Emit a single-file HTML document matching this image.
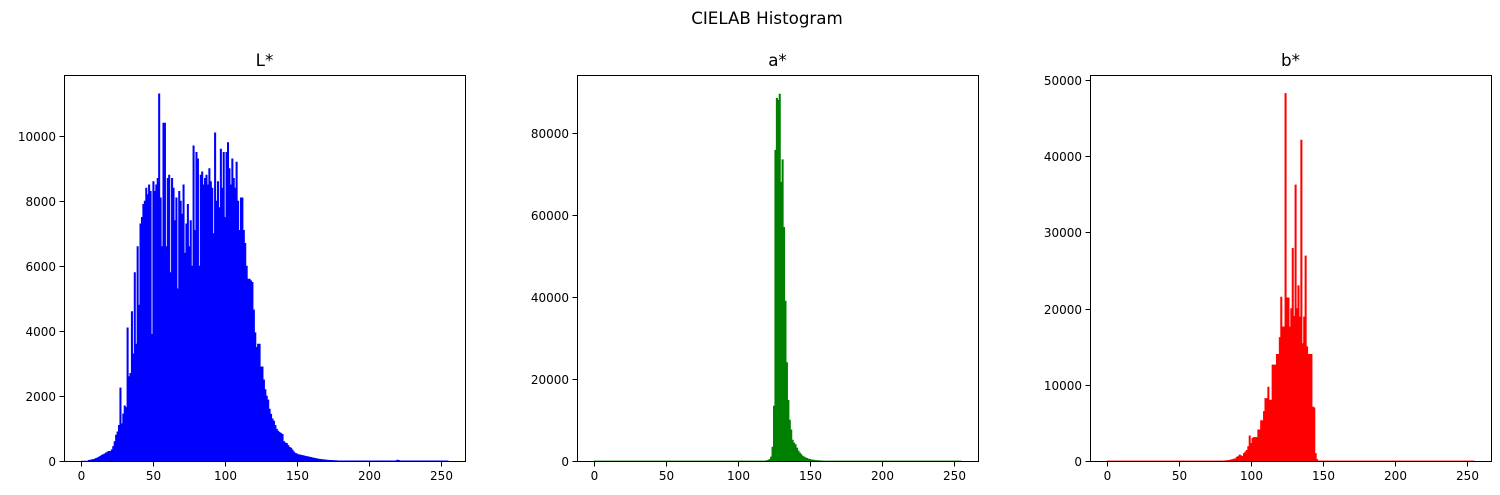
<!DOCTYPE html>
<html><head><meta charset="utf-8"><style>
html,body{margin:0;padding:0;background:#fff;}
svg{display:block;font-family:"DejaVu Sans","Liberation Sans",sans-serif;}
</style></head><body>
<svg id="fig" width="1500" height="495" viewBox="0 0 1500 495" xmlns="http://www.w3.org/2000/svg">
<rect width="1500" height="495" fill="#fff"/>
<text x="767" y="24" text-anchor="middle" font-size="16.7" fill="#000">CIELAB Histogram</text>
</svg>
<script>
const lValues = [
0,0,0,0,0,20,30,40,50,60,
80,100,120,150,180,200,220,250,280,300,
300,350,450,600,800,900,1100,2250,1150,1450,
1700,1650,4100,2600,2700,4600,3300,5800,3600,6600,
4800,7300,7500,7900,8000,8400,8200,8500,8300,3900,
8600,8300,8500,8700,11300,8100,6600,10400,10400,6600,
8700,8800,5800,8700,8400,7400,8100,5300,8300,8000,
7600,8500,6400,7300,7900,6600,7400,6000,9700,7100,
9500,9300,6000,8800,8900,8500,8700,8800,8500,9000,
8600,8400,7000,10100,8000,8600,7800,9600,8400,9500,
7500,9500,9800,9000,8500,9300,8700,8400,9200,8000,
7100,8100,8100,7100,6700,6000,5600,5600,5550,5500,
4650,3950,3500,3600,3600,2900,2900,2500,2200,2000,
1880,1600,1440,1300,1230,1100,980,920,880,850,
820,600,560,540,480,420,400,340,280,240,
220,200,190,180,170,160,150,140,130,120,
110,100,90,80,70,60,55,50,45,40,
35,30,25,22,20,18,15,12,10,8,
5,5,5,5,5,5,5,5,5,5,
5,5,5,5,5,5,5,5,5,5,
5,5,5,5,5,5,5,5,5,5,
5,5,5,5,5,5,5,5,5,5,
30,20,5,5,5,5,5,5,5,5,
5,5,5,5,5,5,5,5,5,5,
5,5,5,5,5,5,5,5,5,5,
5,5,5,5,5,5];
const aValues = [
30,30,30,30,30,30,30,30,30,30,
30,30,30,30,30,30,30,30,30,30,
30,30,30,30,30,30,30,30,30,30,
30,30,30,30,30,30,30,30,30,30,
30,30,30,30,30,30,30,30,30,30,
30,30,30,30,30,30,30,30,30,30,
30,30,30,30,30,30,30,30,30,30,
30,30,30,30,30,30,30,30,30,30,
30,30,30,30,30,30,30,30,30,30,
30,30,30,30,30,30,30,30,30,30,
30,30,30,30,30,30,30,30,30,30,
30,30,30,30,30,30,30,30,30,30,
100,200,400,1000,3400,13400,75800,88500,88000,89500,
68000,73500,57000,39000,24000,14800,10000,7600,5100,4400,
4000,3200,2500,2000,1600,1200,1000,800,650,500,
400,300,250,200,150,120,100,80,60,50,
30,30,30,30,30,30,30,30,30,30,
30,30,30,30,30,30,30,30,30,30,
30,30,30,30,30,30,30,30,30,30,
30,30,30,30,30,30,30,30,30,30,
30,30,30,30,30,30,30,30,30,30,
30,30,30,30,30,30,30,30,30,30,
30,30,30,30,30,30,30,30,30,30,
30,30,30,30,30,30,30,30,30,30,
30,30,30,30,30,30,30,30,30,30,
30,30,30,30,30,30];
const bValues = [
10,10,10,10,10,10,10,10,10,10,
10,10,10,10,10,10,10,10,10,10,
10,10,10,10,10,10,10,10,10,10,
10,10,10,10,10,10,10,10,10,10,
10,10,10,10,10,10,10,10,10,10,
10,10,10,10,10,10,10,10,10,10,
10,10,10,10,10,10,10,10,10,10,
10,10,10,10,10,10,10,10,10,10,
10,30,40,60,80,100,150,200,250,300,
500,600,800,700,600,1000,1200,1400,1900,3300,
2300,3000,3100,3100,3100,4100,4100,5300,5300,6500,
8200,8200,9700,8000,8000,12600,12600,12600,14000,14000,
16200,21500,17600,17600,48200,21400,21400,17600,20000,27900,
19000,36200,20000,23000,18900,42100,15400,18900,26900,15000,
14000,14000,14000,7100,7000,1000,200,10,10,10,
10,10,10,10,10,10,10,10,10,10,
10,10,10,10,10,10,10,10,10,10,
10,10,10,10,10,10,10,10,10,10,
10,10,10,10,10,10,10,10,10,10,
10,10,10,10,10,10,10,10,10,10,
10,10,10,10,10,10,10,10,10,10,
10,10,10,10,10,10,10,10,10,10,
10,10,10,10,10,10,10,10,10,10,
10,10,10,10,10,10,10,10,10,10,
10,10,10,10,10,10,10,10,10,10,
10,10,10,10,10,10];
const xTicks = [0,50,100,150,200,250];
const lTicks = [0,2000,4000,6000,8000,10000];
const aTicks = [0,20000,40000,60000,80000];
const bTicks = [0,10000,20000,30000,40000,50000];
const titles = ["L*","a*","b*"];

const NS = "http://www.w3.org/2000/svg";
const svg = document.getElementById("fig");
function mk(tag, attrs, parent){
  const e = document.createElementNS(NS, tag);
  for (const k in attrs) e.setAttribute(k, attrs[k]);
  parent.appendChild(e);
  return e;
}
const panels = [
  {left:64, vals:lValues, ticks:lTicks, ymax:11877, color:"#0000ff", key:"l"},
  {left:577, vals:aValues, ticks:aTicks, ymax:94146, color:"#008000", key:"a"},
  {left:1090, vals:bValues, ticks:bTicks, ymax:50623, color:"#ff0000", key:"b"}
];
const axTop = 75, axBottom = 461, axW = 401;
panels.forEach((p, pi) => {
  const g = mk("g", {}, svg);
  
  
  const xs = v => p.left + 17 + 1.44 * v;
  const ys = v => axBottom - (v / p.ymax) * (axBottom - axTop);
  let d = "M" + xs(0) + "," + axBottom;
  p.vals.forEach((v, i) => {
    d += " L" + xs(i * 255 / 256) + "," + ys(v) + " L" + xs((i + 1) * 255 / 256) + "," + ys(v);
  });
  d += " L" + xs(255) + "," + axBottom + " Z";
  const path = mk("path", {d:d, fill:p.color, stroke:p.color, "stroke-width":0.6}, g);
  
  
  const fr = mk("rect", {x:p.left+0.5, y:axTop+0.5, width:axW, height:axBottom-axTop, fill:"none", stroke:"#000", "stroke-width":1}, g);
  
  
  const t = mk("text", {x:p.left+axW/2, y:axTop-9, "text-anchor":"middle", "font-size":16.7}, g);
  t.textContent = titles[pi];
  
  
  xTicks.forEach(v => {
    const x = Math.round(xs(v)) + 0.5;
    const tk = mk("line", {x1:x, x2:x, y1:axBottom+0.5, y2:axBottom+5.5, stroke:"#000"}, g);
    
    
    const lb = mk("text", {x:x, y:axBottom+19, "text-anchor":"middle", "font-size":12}, g);
    lb.textContent = v;
    
    
  });
  p.ticks.forEach(v => {
    const y = Math.round(ys(v)) + 0.5;
    const tk = mk("line", {x1:p.left-4.5, x2:p.left+0.5, y1:y, y2:y, stroke:"#000"}, g);
    
    
    const lb = mk("text", {x:p.left-8, y:y+4.5, "text-anchor":"end", "font-size":12}, g);
    lb.textContent = v;
    
    
  });
});
</script>
</body></html>
